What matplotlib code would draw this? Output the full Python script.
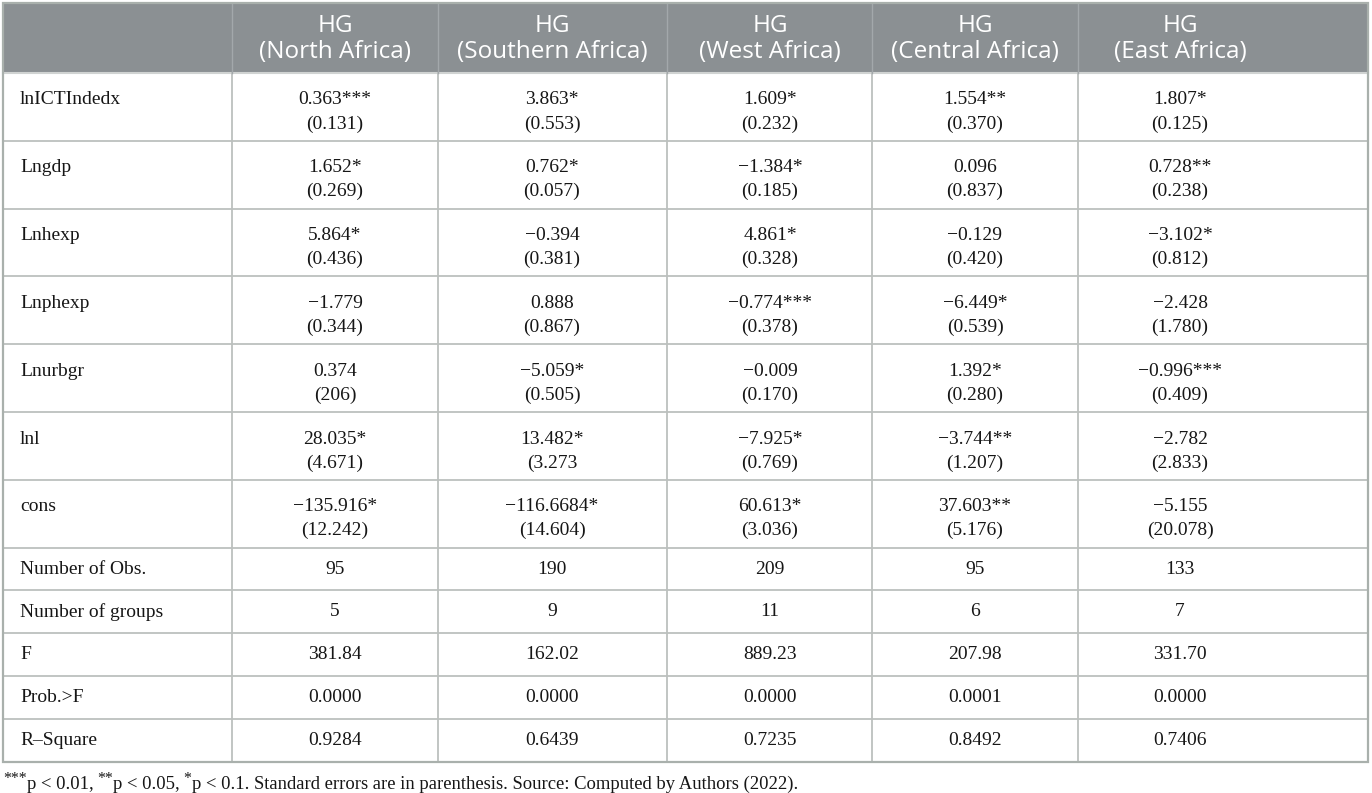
import matplotlib
matplotlib.use("Agg")
import matplotlib.pyplot as plt
from matplotlib.patches import Rectangle

# ---------------- data ----------------
regions = ["North Africa", "Southern Africa", "West Africa", "Central Africa", "East Africa"]
variables = ["lnICTIndedx", "Lngdp", "Lnhexp", "Lnphexp", "Lnurbgr", "lnl", "cons"]
coef = [
    ["0.363***", "3.863*", "1.609*", "1.554**", "1.807*"],
    ["1.652*", "0.762*", "\u22121.384*", "0.096", "0.728**"],
    ["5.864*", "\u22120.394", "4.861*", "\u22120.129", "\u22123.102*"],
    ["\u22121.779", "0.888", "\u22120.774***", "\u22126.449*", "\u22122.428"],
    ["0.374", "\u22125.059*", "\u22120.009", "1.392*", "\u22120.996***"],
    ["28.035*", "13.482*", "\u22127.925*", "\u22123.744**", "\u22122.782"],
    ["\u2212135.916*", "\u2212116.6684*", "60.613*", "37.603**", "\u22125.155"],
]
stderr = [
    ["(0.131)", "(0.553)", "(0.232)", "(0.370)", "(0.125)"],
    ["(0.269)", "(0.057)", "(0.185)", "(0.837)", "(0.238)"],
    ["(0.436)", "(0.381)", "(0.328)", "(0.420)", "(0.812)"],
    ["(0.344)", "(0.867)", "(0.378)", "(0.539)", "(1.780)"],
    ["(206)", "(0.505)", "(0.170)", "(0.280)", "(0.409)"],
    ["(4.671)", "(3.273", "(0.769)", "(1.207)", "(2.833)"],
    ["(12.242)", "(14.604)", "(3.036)", "(5.176)", "(20.078)"],
]
stat_labels = ["Number of Obs.", "Number of groups", "F", "Prob.>F", "R\u2013Square"]
stat_values = [
    ["95", "190", "209", "95", "133"],
    ["5", "9", "11", "6", "7"],
    ["381.84", "162.02", "889.23", "207.98", "331.70"],
    ["0.0000", "0.0000", "0.0000", "0.0001", "0.0000"],
    ["0.9284", "0.6439", "0.7235", "0.8492", "0.7406"],
]
# footnote as (text, is_superscript) pieces
footnote_parts = [
    ("***", True), ("p < 0.01,", False), ("**", True), ("p < 0.05,", False),
    ("*", True), ("p < 0.1. Standard errors are in parenthesis. Source: Computed by Authors (2022).", False),
]

# ---------------- layout ----------------
W, H = 1372, 793
fig = plt.figure(figsize=(W / 100, H / 100), dpi=100)
ax = fig.add_axes([0, 0, 1, 1])
ax.set_xlim(0, W)
ax.set_ylim(H, 0)
ax.axis("off")

left, right = 3, 1368
col_edges = [left, 232, 438, 667, 872, 1078, right]
col_centers = [335, 552, 770, 975, 1180]
top, header_bot = 3, 73
dbl_h, sgl_h = 67.8, 42.8

header_color = "#8b9093"
line_color = "#bcc0be"
border_color = "#a9b0ac"
serif = "Liberation Serif"
sans = "Open Sans"
body_fs = 14
head_fs = 17.5

ax.add_patch(Rectangle((left, top), right - left, header_bot - top,
                       facecolor=header_color, edgecolor="none", zorder=1))

row_tops = [header_bot]
for _ in variables:
    row_tops.append(row_tops[-1] + dbl_h)
for _ in stat_labels:
    row_tops.append(row_tops[-1] + sgl_h)
bottom = row_tops[-1]

for y in row_tops[1:-1]:
    ax.plot([left, right], [y, y], color=line_color, lw=1.3, zorder=2)
ax.plot([left, right], [header_bot, header_bot], color="#d0d3d2", lw=1.5, zorder=2)

for x in col_edges[1:-1]:
    ax.plot([x, x], [header_bot, bottom], color=line_color, lw=1.3, zorder=2)
    ax.plot([x, x], [top, header_bot], color="#a3a8ab", lw=1.0, zorder=2)

ax.add_patch(Rectangle((left, top), right - left, bottom - top,
                       facecolor="none", edgecolor=border_color, lw=1.6, zorder=3))

for cx, reg in zip(col_centers, regions):
    ax.text(cx, 26, "HG", ha="center", va="center", color="white",
            fontsize=head_fs, family=sans, zorder=4)
    ax.text(cx, 52, f"({reg})", ha="center", va="center", color="white",
            fontsize=head_fs, family=sans, zorder=4)

label_x = 20
txt_color = "#161616"
for i, var in enumerate(variables):
    y0 = row_tops[i]
    ax.text(label_x, y0 + 27, var, ha="left", va="center", fontsize=body_fs,
            family=serif, color=txt_color)
    for j, cx in enumerate(col_centers):
        ax.text(cx, y0 + 27, coef[i][j], ha="center", va="center",
                fontsize=body_fs, family=serif, color=txt_color)
        ax.text(cx, y0 + 51, stderr[i][j], ha="center", va="center",
                fontsize=body_fs, family=serif, color=txt_color)

for k, lab in enumerate(stat_labels):
    y0 = row_tops[len(variables) + k]
    yc = y0 + sgl_h / 2
    ax.text(label_x, yc, lab, ha="left", va="center", fontsize=body_fs,
            family=serif, color=txt_color)
    for j, cx in enumerate(col_centers):
        ax.text(cx, yc, stat_values[k][j], ha="center", va="center",
                fontsize=body_fs, family=serif, color=txt_color)

# footnote drawn piece by piece
renderer = fig.canvas.get_renderer()
foot_fs = 13.4
x_px = 3
for idx, (txt, sup) in enumerate(footnote_parts):
    t = ax.text(x_px, 789, txt, ha="left", va="baseline",
                fontsize=foot_fs * (0.85 if sup else 1.0), family=serif, color=txt_color)
    if sup:
        t.set_y(783)
    bb = t.get_window_extent(renderer=renderer)
    x_px += bb.width + (0 if sup else 4)

fig.savefig("out.png", dpi=100)
